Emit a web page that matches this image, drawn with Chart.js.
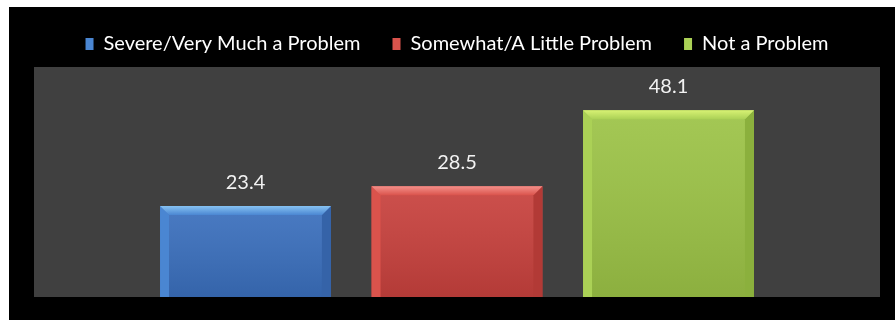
<!DOCTYPE html>
<html>
<head>
<meta charset="utf-8">
<script src="https://cdn.jsdelivr.net/npm/chart.js@4.4.1/dist/chart.umd.min.js"></script>
<style>
  html, body { margin: 0; padding: 0; background: #ffffff; }
  #wrap { position: absolute; left: 9px; top: 7px; width: 886px; height: 313px; background: #000000; }
</style>
</head>
<body>
<div id="wrap"><canvas id="problemChart" width="886" height="313"></canvas></div>
<script>
const seriesNames = ['Severe/Very Much a Problem', 'Somewhat/A Little Problem', 'Not a Problem'];
const seriesValues = [23.4, 28.5, 48.1];
const categories = [''];

// body, top bevel, left edge, right edge
const barColors = [
  { body: '#3a6fbd', light: '#86c2f2', left: '#4a86d2', right: '#3563a8' },
  { body: '#c8413d', light: '#f4908a', left: '#da534c', right: '#b23a36' },
  { body: '#9cc346', light: '#d8f274', left: '#abd156', right: '#8bb03d' }
];

// dark plot area behind the bars
const plotBackground = {
  id: 'plotBackground',
  beforeDraw(chart) {
    const { ctx, chartArea: a } = chart;
    ctx.save();
    ctx.fillStyle = '#404040';
    ctx.fillRect(a.left, a.top, a.right - a.left, a.bottom - a.top);
    ctx.restore();
  }
};

// fixed legend band height
const legendBand = {
  id: 'legendBand',
  beforeLayout(chart) {
    const legend = chart.legend;
    if (!legend || legend._banded) return;
    const fit = legend.fit;
    legend.fit = function () {
      fit.call(this);
      this.height = 65;
    };
    legend._banded = true;
  }
};

// bevelled edges on every bar
const bevel = {
  id: 'bevel',
  afterDatasetsDraw(chart) {
    const ctx = chart.ctx;
    const b = 9;
    chart.data.datasets.forEach((ds, i) => {
      const c = barColors[i];
      chart.getDatasetMeta(i).data.forEach(bar => {
        const l = bar.x - bar.width / 2, r = bar.x + bar.width / 2;
        const t = bar.y, bot = bar.base;
        ctx.save();
        // soft shading down the body
        const g = ctx.createLinearGradient(0, t, 0, bot);
        g.addColorStop(0, 'rgba(255,255,255,0.08)');
        g.addColorStop(1, 'rgba(0,0,0,0.10)');
        ctx.fillStyle = g;
        ctx.fillRect(l, t, r - l, bot - t);
        // left edge
        ctx.fillStyle = c.left;
        ctx.beginPath();
        ctx.moveTo(l, t); ctx.lineTo(l + b, t + b); ctx.lineTo(l + b, bot); ctx.lineTo(l, bot);
        ctx.closePath(); ctx.fill();
        // right edge
        ctx.fillStyle = c.right;
        ctx.beginPath();
        ctx.moveTo(r, t); ctx.lineTo(r - b, t + b); ctx.lineTo(r - b, bot); ctx.lineTo(r, bot);
        ctx.closePath(); ctx.fill();
        // top edge
        const tg = ctx.createLinearGradient(0, t, 0, t + b);
        tg.addColorStop(0, c.light);
        tg.addColorStop(1, c.left);
        ctx.fillStyle = tg;
        ctx.beginPath();
        ctx.moveTo(l, t); ctx.lineTo(r, t); ctx.lineTo(r - b, t + b); ctx.lineTo(l + b, t + b);
        ctx.closePath(); ctx.fill();
        ctx.restore();
      });
    });
  }
};

// value above each bar
const valueLabels = {
  id: 'valueLabels',
  afterDatasetsDraw(chart) {
    const ctx = chart.ctx;
    ctx.save();
    ctx.font = '20px Lato';
    ctx.fillStyle = '#f2f2f2';
    ctx.textAlign = 'center';
    ctx.textBaseline = 'alphabetic';
    chart.data.datasets.forEach((ds, i) => {
      chart.getDatasetMeta(i).data.forEach((bar, j) => {
        ctx.fillText(ds.data[j].toFixed(1), bar.x, bar.y - 17);
      });
    });
    ctx.restore();
  }
};

new Chart(document.getElementById('problemChart'), {
  type: 'bar',
  data: {
    labels: categories,
    datasets: seriesNames.map((name, i) => ({
      label: name,
      data: [seriesValues[i]],
      backgroundColor: barColors[i].body,
      borderWidth: 0,
      categoryPercentage: 0.75,
      barPercentage: 0.808
    }))
  },
  options: {
    responsive: false,
    animation: false,
    layout: { padding: { top: -5, left: 25, right: 15, bottom: 23 } },
    scales: {
      x: { display: false },
      y: { display: false, min: 0, max: 59.2 }
    },
    plugins: {
      tooltip: { enabled: false },
      legend: {
        position: 'top',
        labels: {
          color: '#ffffff',
          font: { family: 'Lato', size: 20 },
          boxWidth: 8,
          boxHeight: 12,
          padding: 32,
          generateLabels: chart => chart.data.datasets.map((ds, i) => ({
            text: ds.label,
            fillStyle: barColors[i].left,
            strokeStyle: barColors[i].light,
            lineWidth: 0,
            fontColor: '#ffffff',
            datasetIndex: i
          }))
        }
      }
    }
  },
  plugins: [plotBackground, legendBand, bevel, valueLabels]
});
</script>
</body>
</html>
